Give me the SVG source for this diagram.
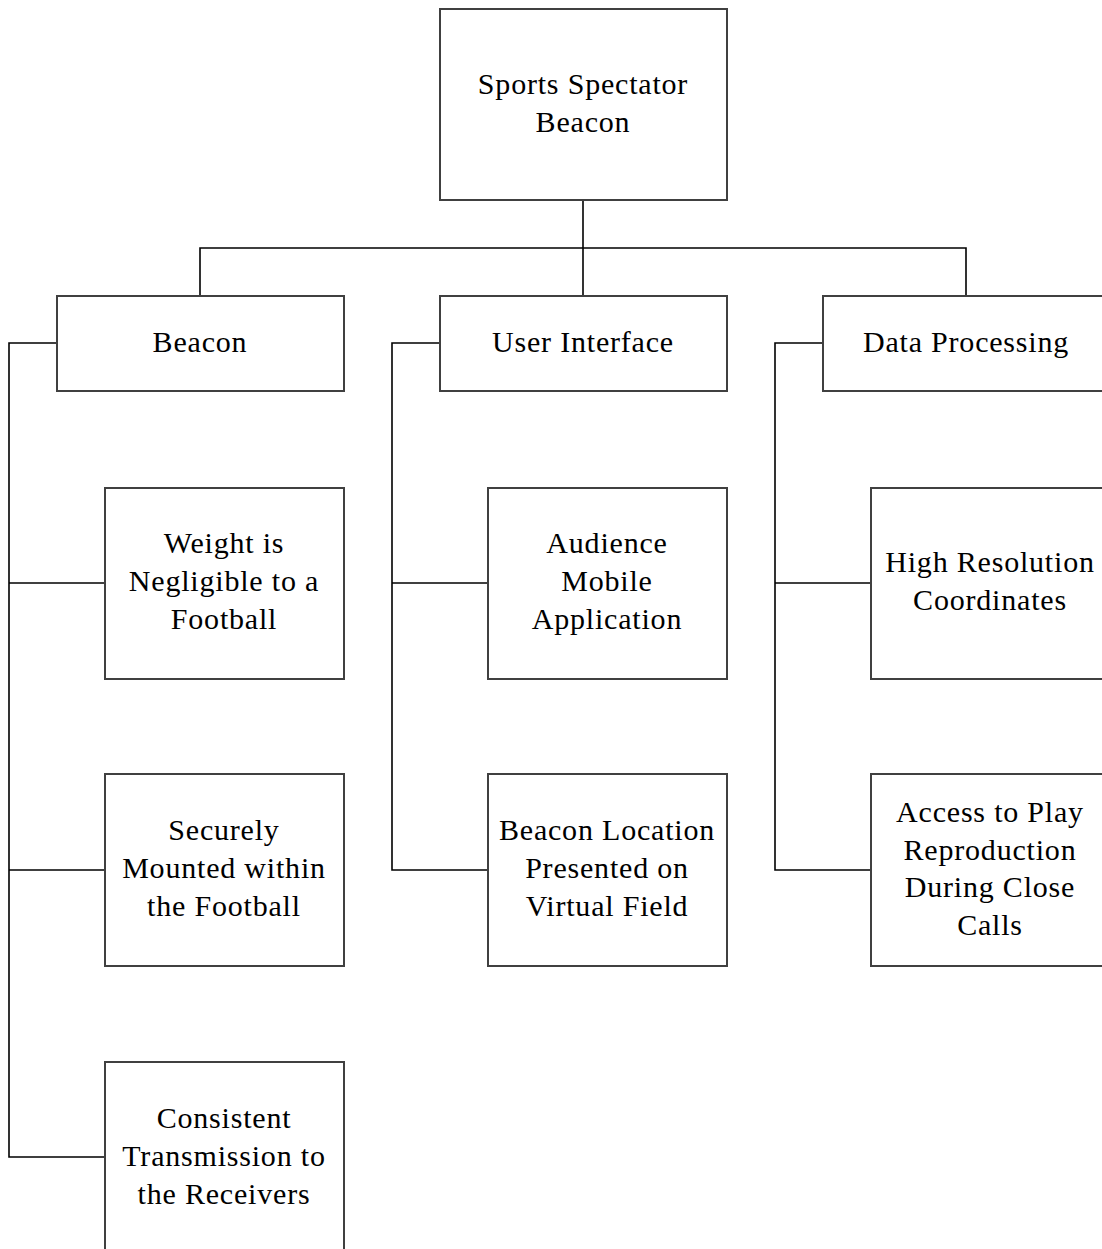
<svg xmlns="http://www.w3.org/2000/svg" width="1102" height="1249" viewBox="0 0 1102 1249">
  <style>
    .box { fill: #ffffff; stroke: #404040; stroke-width: 2; }
    .wire { fill: none; stroke: #000000; stroke-width: 1.6; }
    text { font-family: "Liberation Serif", "Times New Roman", serif; font-size: 30px; letter-spacing: 0.8px; fill: #000000; text-anchor: middle; }
  </style>
  <rect width="1102" height="1249" fill="#ffffff"/>

  <g id="connectors">
    <!-- root to first level -->
    <path class="wire" d="M583 200 V296"/>
    <path class="wire" d="M200 296 V248 H966 V296"/>
    <!-- Beacon branch -->
    <path class="wire" d="M57 343 H9 V1157 H105"/>
    <path class="wire" d="M9 583 H105"/>
    <path class="wire" d="M9 870 H105"/>
    <!-- User Interface branch -->
    <path class="wire" d="M440 343 H392 V870 H488"/>
    <path class="wire" d="M392 583 H488"/>
    <!-- Data Processing branch -->
    <path class="wire" d="M823 343 H775 V870 H871"/>
    <path class="wire" d="M775 583 H871"/>
  </g>

  <g id="root">
    <rect class="box" x="440" y="9" width="287" height="191"/>
    <text x="583" y="94">Sports Spectator</text>
    <text x="583" y="132">Beacon</text>
  </g>

  <g id="beacon">
    <rect class="box" x="57" y="296" width="287" height="95"/>
    <text x="200" y="352">Beacon</text>
  </g>
  <g id="user-interface">
    <rect class="box" x="440" y="296" width="287" height="95"/>
    <text x="583" y="352">User Interface</text>
  </g>
  <g id="data-processing">
    <rect class="box" x="823" y="296" width="290" height="95"/>
    <text x="966" y="352">Data Processing</text>
  </g>

  <g id="weight">
    <rect class="box" x="105" y="488" width="239" height="191"/>
    <text x="224" y="553">Weight is</text>
    <text x="224" y="591">Negligible to a</text>
    <text x="224" y="629">Football</text>
  </g>
  <g id="mounted">
    <rect class="box" x="105" y="774" width="239" height="192"/>
    <text x="224" y="840">Securely</text>
    <text x="224" y="878">Mounted within</text>
    <text x="224" y="916">the Football</text>
  </g>
  <g id="transmission">
    <rect class="box" x="105" y="1062" width="239" height="195"/>
    <text x="224" y="1128">Consistent</text>
    <text x="224" y="1166">Transmission to</text>
    <text x="224" y="1204">the Receivers</text>
  </g>

  <g id="mobile-app">
    <rect class="box" x="488" y="488" width="239" height="191"/>
    <text x="607" y="553">Audience</text>
    <text x="607" y="591">Mobile</text>
    <text x="607" y="629">Application</text>
  </g>
  <g id="virtual-field">
    <rect class="box" x="488" y="774" width="239" height="192"/>
    <text x="607" y="840">Beacon Location</text>
    <text x="607" y="878">Presented on</text>
    <text x="607" y="916">Virtual Field</text>
  </g>

  <g id="coordinates">
    <rect class="box" x="871" y="488" width="242" height="191"/>
    <text x="990" y="572">High Resolution</text>
    <text x="990" y="610">Coordinates</text>
  </g>
  <g id="play-reproduction">
    <rect class="box" x="871" y="774" width="242" height="192"/>
    <text x="990" y="822">Access to Play</text>
    <text x="990" y="860">Reproduction</text>
    <text x="990" y="897">During Close</text>
    <text x="990" y="935">Calls</text>
  </g>
</svg>
